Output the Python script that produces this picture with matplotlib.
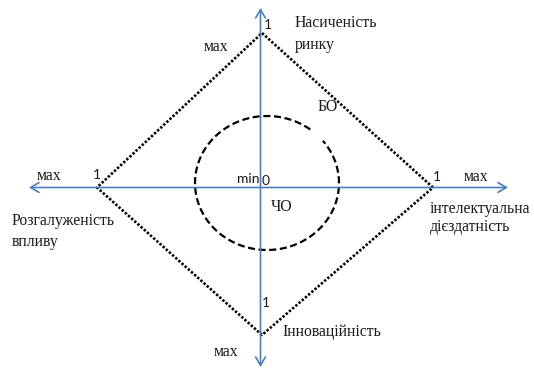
import numpy as np
import matplotlib.pyplot as plt

# axis extents (pixel-like units, origin at axes crossing)
x_axis_span = [-231.5, 247.5]
y_axis_span = [-179.5, 179.5]

# diamond of "max" values (БО): right, top, left, bottom
diamond_x = [172.5, 1.5, -163.5, 1.5, 172.5]
diamond_y = [0.0, 154.5, 0.0, -147.5, 0.0]

# dashed circle of "min" values (ЧО)
circle_center = (6.5, 4.5)
circle_radius = (72.0, 67.0)
circle_gap_deg = (39, 53)

# labels: (text, x, y, ha)
serif_labels = [
    ("Насиченість", 34.5, 164.5, "left"),
    ("ринку", 34.5, 142.5, "left"),
    ("мах", -44.5, 140.5, "center"),
    ("БО", 67.5, 80.5, "center"),
    ("мах", -211.5, 11.5, "center"),
    ("Розгалуженість", -248.5, -33.5, "left"),
    ("впливу", -248.5, -54.5, "left"),
    ("ЧО", 21.5, -19.5, "center"),
    ("мах", 215.5, 10.5, "center"),
    ("інтелектуальна", 169.5, -21.5, "left"),
    ("дієздатність", 169.5, -39.5, "left"),
    ("Інноваційність", 21.5, -144.5, "left"),
    ("мах", -34.5, -164.5, "center"),
]
sans_labels = [
    ("1", 7.5, 162.5),
    ("1", -163.5, 12.5),
    ("1", 176.5, 10.5),
    ("1", 5.0, -115.5),
    ("min", -12.5, 8.5),
    ("0", 5.5, 6.5),
]

fig = plt.figure(figsize=(5.34, 3.69), dpi=100)
ax = fig.add_axes([0, 0, 1, 1])
ax.set_xlim(-260.5, 273.5)
ax.set_ylim(-181.5, 187.5)
ax.axis("off")

axis_color = "#4a7ebb"
arrow = dict(arrowstyle="<->,head_length=0.6,head_width=0.35", color=axis_color,
             lw=1.2, shrinkA=0, shrinkB=0)
ax.annotate("", xy=(x_axis_span[1], 0), xytext=(x_axis_span[0], 0), arrowprops=arrow)
ax.annotate("", xy=(0, y_axis_span[1]), xytext=(0, y_axis_span[0]), arrowprops=arrow)

ax.plot(diamond_x, diamond_y, color="black", lw=1.9, linestyle=(0, (0.9, 0.7)),
        dash_capstyle="butt")

t = np.radians(np.linspace(circle_gap_deg[1], circle_gap_deg[0] + 360, 400))
ax.plot(circle_center[0] + circle_radius[0] * np.cos(t),
        circle_center[1] + circle_radius[1] * np.sin(t),
        color="black", lw=1.6, linestyle=(0, (3.2, 1.6)))

for s, x, y, ha in serif_labels:
    ax.text(x, y, s, ha=ha, va="center", fontsize=11.3, family="Liberation Serif",
            color="#1a1a1a")
for s, x, y in sans_labels:
    ax.text(x, y, s, ha="center", va="center", fontsize=10, family="Lato",
            color="#1a1a1a")

plt.savefig("out.png", dpi=100)
